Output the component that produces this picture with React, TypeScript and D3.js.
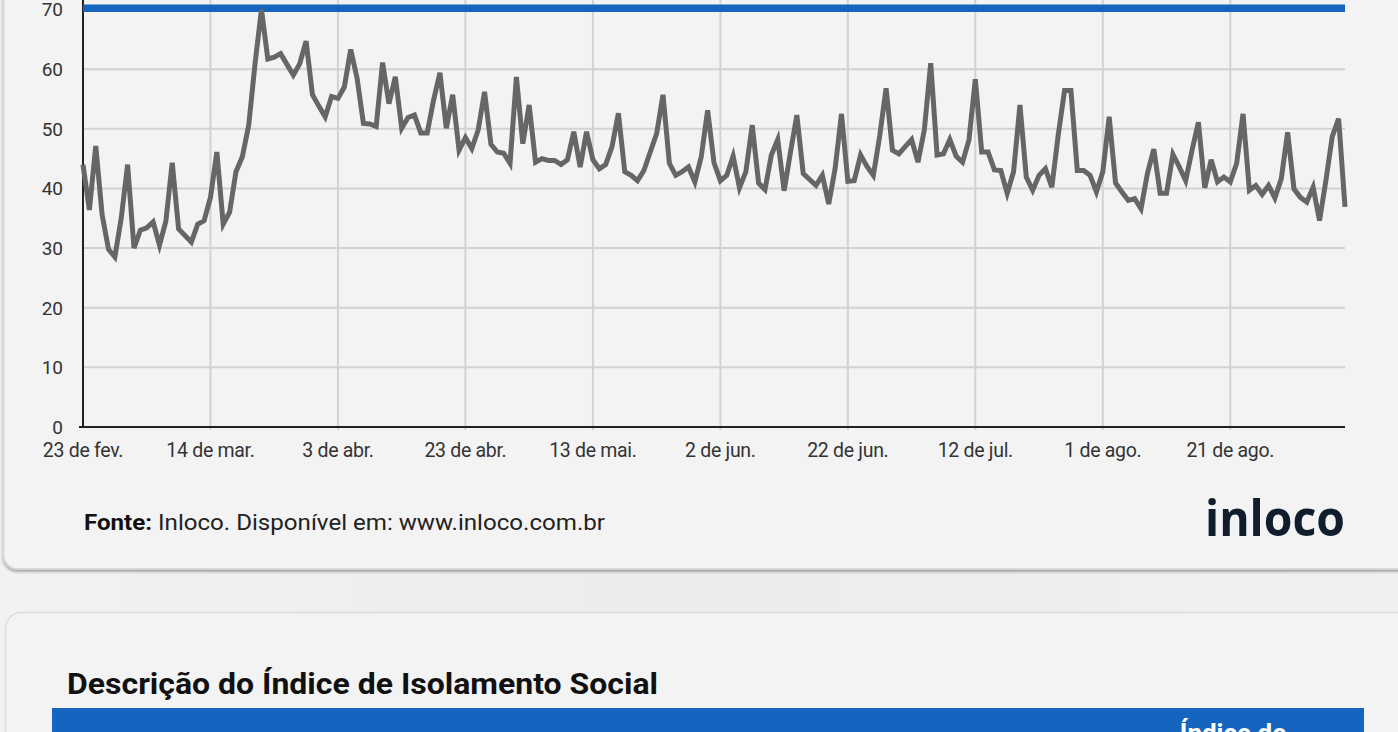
import React from "react";
import * as d3 from "d3";

const startDate = Date.UTC(2020, 1, 23);
const endDate = Date.UTC(2020, 8, 8);

const isolationIndex = [
  44, 36.4, 47.1, 35.6, 29.8, 28.5, 35, 44, 30, 33,
  33.4, 34.4, 30.5, 34.5, 44.3, 33.2, 32.1, 31.0, 34.0, 34.6,
  38.5, 46.1, 34.0, 36.0, 42.8, 45.3, 50.6, 61.0, 70.0, 61.7,
  62.0, 62.6, 60.8, 59.0, 60.9, 64.7, 55.7, 53.8, 52.0, 55.4,
  55.1, 57.0, 63.3, 58.5, 50.9, 50.8, 50.4, 61.1, 54.2, 58.7,
  50.1, 51.9, 52.3, 49.3, 49.3, 54.8, 59.4, 50.1, 55.7, 46.4,
  48.5, 46.7, 49.8, 56.2, 47.4, 46.1, 45.9, 44.2, 58.7, 47.5,
  54.0, 44.4, 45.0, 44.7, 44.7, 44.0, 44.8, 49.5, 43.6, 49.5,
  44.8, 43.3, 44.0, 47.0, 52.6, 42.8, 42.2, 41.3, 43.0, 46.1,
  49.2, 55.7, 44.2, 42.2, 42.8, 43.6, 41.1, 45.3, 53.1, 44.3,
  41.3, 42.2, 45.4, 40.1, 42.8, 50.6, 40.9, 39.8, 45.6, 48.2,
  39.6, 46.1, 52.3, 42.5, 41.5, 40.5, 42.2, 37.4, 43.3, 52.5,
  41.2, 41.3, 45.6, 43.7, 42.2, 48.8, 56.8, 46.4, 45.8, 47.0,
  48.2, 44.4, 49.8, 61.0, 45.6, 45.8, 48.2, 45.4, 44.4, 48.1,
  58.3, 46.1, 46.1, 43.1, 43.0, 39.2, 42.8, 54.0, 41.9, 39.7,
  42.2, 43.3, 40.2, 48.9, 56.4, 56.4, 43.0, 43.0, 42.2, 39.4,
  42.8, 52.0, 40.9, 39.4, 38.0, 38.3, 36.6, 42.5, 46.6, 39.2,
  39.2, 45.7, 43.6, 41.3, 46.4, 51.1, 40.1, 44.8, 41.1, 41.9,
  41.1, 44.2, 52.5, 39.7, 40.5, 39.0, 40.5, 38.4, 41.6, 49.4,
  39.9, 38.5, 37.7, 40.2, 34.6, 41.3, 48.7, 51.7, 36.9,
];

const tickDates = [
  Date.UTC(2020, 1, 23), Date.UTC(2020, 2, 14), Date.UTC(2020, 3, 3),
  Date.UTC(2020, 3, 23), Date.UTC(2020, 4, 13), Date.UTC(2020, 5, 2),
  Date.UTC(2020, 5, 22), Date.UTC(2020, 6, 12), Date.UTC(2020, 7, 1),
  Date.UTC(2020, 7, 21),
];
const tickLabels = [
  "23 de fev.", "14 de mar.", "3 de abr.", "23 de abr.", "13 de mai.",
  "2 de jun.", "22 de jun.", "12 de jul.", "1 de ago.", "21 de ago.",
];
const yTicks = [0, 10, 20, 30, 40, 50, 60, 70];
const threshold = 70;

export default function App() {
  const W = 1398;
  const H = 732;
  const x = d3.scaleUtc().domain([new Date(startDate), new Date(endDate)]).range([83, 1345]);
  const y = d3.scaleLinear().domain([0, 70]).range([427, 9.5]);
  const data = isolationIndex.map((v, i) => ({ d: d3.utcDay.offset(new Date(startDate), i), v }));
  const line = d3.line<{ d: Date; v: number }>().x((p) => x(p.d)).y((p) => y(p.v));
  const font = "Roboto, 'Noto Sans', sans-serif";

  return (
    <svg width={W} height={H} style={{ position: "absolute", left: 0, top: 0, display: "block" }} fontFamily={font}>
      <defs>
        <filter id="sh" x="-5%" y="-5%" width="110%" height="115%">
          <feDropShadow dx="0" dy="2" stdDeviation="1.5" floodColor="#000" floodOpacity="0.35" />
        </filter>
        <linearGradient id="bg" x1="0" x2="1" y1="0" y2="0">
          <stop offset="0" stopColor="#f2f2f2" />
          <stop offset="0.5" stopColor="#ececec" />
          <stop offset="1" stopColor="#f1f1f1" />
        </linearGradient>
      </defs>
      <rect x={0} y={0} width={W} height={H} fill="url(#bg)" />
      {/* card 1 */}
      <rect x={3.5} y={-60} width={1420} height={629} rx={14} fill="#f3f3f3" stroke="#d4d4d4" strokeWidth={1.5} filter="url(#sh)" />
      {/* card 2 */}
      <rect x={5.5} y={612.5} width={1420} height={300} rx={16} fill="#f3f3f3" stroke="#dcdcdc" strokeWidth={1.5} />

      {/* grid */}
      {yTicks.filter((t) => t > 0).map((t) => (
        <line key={"h" + t} x1={83} x2={1345} y1={y(t)} y2={y(t)} stroke="#d2d2d2" strokeWidth={2} />
      ))}
      {tickDates.slice(1).map((t, i) => (
        <line key={"v" + i} x1={x(new Date(t))} x2={x(new Date(t))} y1={0} y2={430} stroke="#d2d2d2" strokeWidth={2} />
      ))}

      {/* axes */}
      <line x1={83} x2={83} y1={0} y2={428} stroke="#222" strokeWidth={2} />
      <line x1={79} x2={1345} y1={427} y2={427} stroke="#222" strokeWidth={2} />

      {yTicks.map((t) => (
        <text key={"yl" + t} x={63} y={y(t) + 6.8} textAnchor="end" fontSize={19} fill="#333">{t}</text>
      ))}
      {tickDates.map((t, i) => (
        <text key={"xl" + i} x={x(new Date(t))} y={457} textAnchor="middle" fontSize={19.5} letterSpacing={-0.3} fill="#333">{tickLabels[i]}</text>
      ))}

      {/* threshold */}
      <line x1={83} x2={1345} y1={y(threshold) - 1.2} y2={y(threshold) - 1.2} stroke="#1565c0" strokeWidth={7.5} />

      {/* series */}
      <path d={line(data) || ""} fill="none" stroke="#666666" strokeWidth={5} strokeLinejoin="miter" />

      {/* footer */}
      <text x={84} y={530} fontSize={22.5} fill="#222" textLength={521} lengthAdjust="spacingAndGlyphs">
        <tspan fontWeight="bold" fill="#111">Fonte:</tspan>
        <tspan> Inloco. Disponível em: www.inloco.com.br</tspan>
      </text>
      <text x={1345} y={536} textAnchor="end" fontSize={50} fontWeight={700} fontFamily="'Open Sans', sans-serif" fill="#0f1d2c" textLength={140} lengthAdjust="spacingAndGlyphs">inloco</text>

      {/* card 2 content */}
      <text x={67} y={694} fontSize={30} fontWeight="bold" fill="#111" textLength={591} lengthAdjust="spacingAndGlyphs">Descrição do Índice de Isolamento Social</text>
      <rect x={52} y={708} width={1312} height={40} fill="#1565c0" />
      <text x={1233} y={742} textAnchor="middle" fontSize={26} fontWeight="bold" fill="#fff">Índice de</text>
    </svg>
  );
}
